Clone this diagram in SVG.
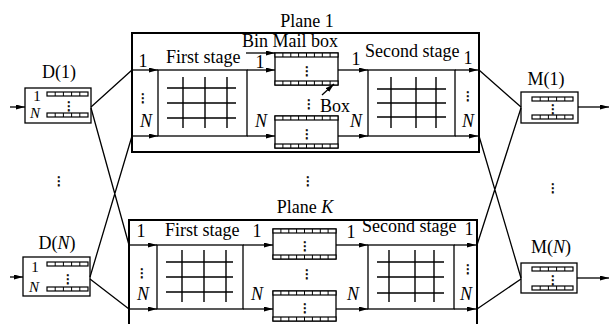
<svg xmlns="http://www.w3.org/2000/svg" xmlns:xlink="http://www.w3.org/1999/xlink" width="610" height="324" viewBox="0 0 610 324">
<defs>
<style>
text{font-family:"Liberation Serif","Times New Roman",serif;font-size:18px;fill:#000}
.it{font-style:italic}
.sm{font-size:15px}
.m{text-anchor:middle}
.vd{font-family:"DejaVu Sans",sans-serif;font-size:12px;text-anchor:middle;stroke:#000;stroke-width:0.6}
.plane{fill:none;stroke:#000;stroke-width:2}
.box{fill:#fff;stroke:#000;stroke-width:1.3}
.grid{fill:none;stroke:#000;stroke-width:1.4}
.ln{fill:none;stroke:#000;stroke-width:1.3}
.ar{fill:none;stroke:#000;stroke-width:1.3;marker-end:url(#ah)}
.st{fill:#fff;stroke:#000;stroke-width:1.2}
.tk{fill:none;stroke:#000;stroke-width:1}
</style>
<marker id="ah" viewBox="0 0 9 5" refX="9" refY="2.5" markerWidth="9" markerHeight="5" markerUnits="userSpaceOnUse" orient="auto">
<path d="M0,0L9,2.5L0,5z" fill="#000"/>
</marker>
<g id="strip8"><rect class="st" x="0" y="0" width="63" height="4"/><path class="tk" d="M7.9,0v4M15.8,0v4M23.6,0v4M31.5,0v4M39.4,0v4M47.3,0v4M55.1,0v4"/></g>
<g id="q5"><rect class="st" x="0" y="0" width="41" height="4"/><path class="tk" d="M8.2,0v4M16.4,0v4M24.6,0v4M32.8,0v4"/></g>
</defs>
<rect width="610" height="324" fill="#fff"/>

<g id="plane1">
<rect class="plane" x="132" y="33" width="347" height="119"/>
<text class="m" x="307" y="27">Plane 1</text>
</g>
<g id="planeK">
<rect class="plane" x="129" y="220" width="348" height="130"/>
<text class="m" x="305" y="213">Plane <tspan class="it">K</tspan></text>
</g>

<g id="D1">
<rect class="box" x="25" y="88" width="66" height="35"/>
<use xlink:href="#q5" x="47" y="92"/>
<use xlink:href="#q5" x="47" y="113"/>
<text class="vd" x="69" y="110">⋮</text>
<text class="sm m" x="37" y="101">1</text>
<text class="sm m it" x="35" y="118">N</text>
<text class="m" x="59" y="78">D(1)</text>
</g>
<g id="DN">
<rect class="box" x="23" y="257" width="67" height="39"/>
<use xlink:href="#q5" x="47" y="262"/>
<use xlink:href="#q5" x="47" y="287"/>
<text class="vd" x="68" y="283">⋮</text>
<text class="sm m" x="35" y="272">1</text>
<text class="sm m it" x="34" y="292">N</text>
<text class="m" x="57" y="249">D(<tspan class="it">N</tspan>)</text>
</g>

<g id="P1-stage1">
<rect class="box" x="158" y="70" width="89" height="66"/>
<path class="grid" d="M167,88H236M167,103H236M167,118H236M183,77V128M205,77V128M227,77V128"/>
<text x="166" y="63">First stage</text>
</g>
<g id="P1-mailbox1">
<rect class="box" x="275" y="53" width="63" height="32"/>
<use xlink:href="#strip8" x="275" y="53"/>
<use xlink:href="#strip8" x="275" y="81"/>
<text class="vd" x="307" y="75">⋮</text>
<text x="242" y="47">Bin Mail box</text>
</g>
<g id="P1-mailboxN">
<rect class="box" x="275" y="116" width="63" height="32"/>
<use xlink:href="#strip8" x="275" y="116"/>
<use xlink:href="#strip8" x="275" y="144"/>
<text class="vd" x="307" y="138">⋮</text>
<text x="320" y="112">Box</text>
</g>
<g id="P1-stage2">
<rect class="box" x="368" y="70" width="87" height="66"/>
<path class="grid" d="M377,89H446M377,103H446M377,117H446M391,77V128M416,77V128M436,77V128"/>
<text x="365" y="57">Second stage</text>
</g>

<g id="PK-stage1">
<rect class="box" x="157" y="245" width="86" height="64"/>
<path class="grid" d="M166,262H233M166,277H233M166,292H233M182,250V302M204,250V302M226,250V302"/>
<text x="165" y="236">First stage</text>
</g>
<g id="PK-mailbox1">
<rect class="box" x="273" y="229" width="63" height="30"/>
<use xlink:href="#strip8" x="273" y="229"/>
<use xlink:href="#strip8" x="273" y="255"/>
<text class="vd" x="305" y="250">⋮</text>
</g>
<g id="PK-mailboxN">
<rect class="box" x="273" y="291" width="63" height="30"/>
<use xlink:href="#strip8" x="273" y="291"/>
<use xlink:href="#strip8" x="273" y="317"/>
<text class="vd" x="305" y="312">⋮</text>
</g>
<g id="PK-stage2">
<rect class="box" x="368" y="245" width="86" height="64"/>
<path class="grid" d="M377,262H444M377,277H444M377,293H444M389,250V302M415,250V302M434,250V302"/>
<text x="362" y="232">Second stage</text>
</g>

<g id="M1">
<rect class="box" x="521" y="92" width="57" height="31"/>
<use xlink:href="#q5" x="532" y="97"/>
<use xlink:href="#q5" x="532" y="115"/>
<text class="vd" x="553" y="113">⋮</text>
<text class="m" x="546" y="85">M(1)</text>
</g>
<g id="MN">
<rect class="box" x="521" y="263" width="56" height="30"/>
<use xlink:href="#q5" x="532" y="267"/>
<use xlink:href="#q5" x="532" y="286"/>
<text class="vd" x="553" y="284">⋮</text>
<text class="m" x="551" y="253">M(<tspan class="it">N</tspan>)</text>
</g>

<g id="connectors">
<path class="ar" d="M10,107H25"/>
<path class="ar" d="M10,277H23"/>
<path class="ln" d="M91,107L132,70M91,108L129,245M90,277L132,136M90,279L129,309"/>
<path class="ar" d="M132,70H158"/>
<path class="ar" d="M132,136H158"/>
<path class="ar" d="M247,70H275"/>
<path class="ar" d="M247,136H275"/>
<path class="ar" d="M338,70H368"/>
<path class="ar" d="M338,136H368"/>
<path class="ar" d="M455,70H478"/>
<path class="ar" d="M455,136H478"/>
<path class="ar" d="M129,245H157"/>
<path class="ar" d="M129,309H157"/>
<path class="ar" d="M243,245H273"/>
<path class="ar" d="M243,309H273"/>
<path class="ar" d="M336,245H368"/>
<path class="ar" d="M336,309H368"/>
<path class="ar" d="M454,245H476"/>
<path class="ar" d="M454,309H476"/>
<path class="ln" d="M479,70L521,107M477,245L521,108M479,136L521,278M477,309L521,279"/>
<path class="ar" d="M578,107H609"/>
<path class="ar" d="M577,278H609"/>
<path class="ar" d="M246,53H275"/>
<path class="ar" d="M322,95L334,84"/>
<text class="m" x="143" y="67">1</text>
<text class="vd" x="143" y="102">⋮</text>
<text class="m it" x="146" y="127">N</text>
<text class="m" x="260" y="68">1</text>
<text class="m it" x="261" y="127">N</text>
<text class="vd" x="309" y="108">⋮</text>
<text class="m" x="356" y="65">1</text>
<text class="m it" x="356" y="127">N</text>
<text class="m" x="468" y="64">1</text>
<text class="vd" x="468" y="100">⋮</text>
<text class="m it" x="468" y="127">N</text>
<text class="m" x="141" y="237">1</text>
<text class="vd" x="142" y="277">⋮</text>
<text class="m it" x="143" y="300">N</text>
<text class="m" x="257" y="237">1</text>
<text class="m it" x="257" y="300">N</text>
<text class="vd" x="307" y="278">⋮</text>
<text class="m" x="351" y="238">1</text>
<text class="m it" x="353" y="300">N</text>
<text class="m" x="469" y="235">1</text>
<text class="vd" x="468" y="273">⋮</text>
<text class="m it" x="466" y="300">N</text>
<text class="vd" x="59" y="185">⋮</text>
<text class="vd" x="308" y="185">⋮</text>
<text class="vd" x="553" y="192">⋮</text>
</g>
</svg>
